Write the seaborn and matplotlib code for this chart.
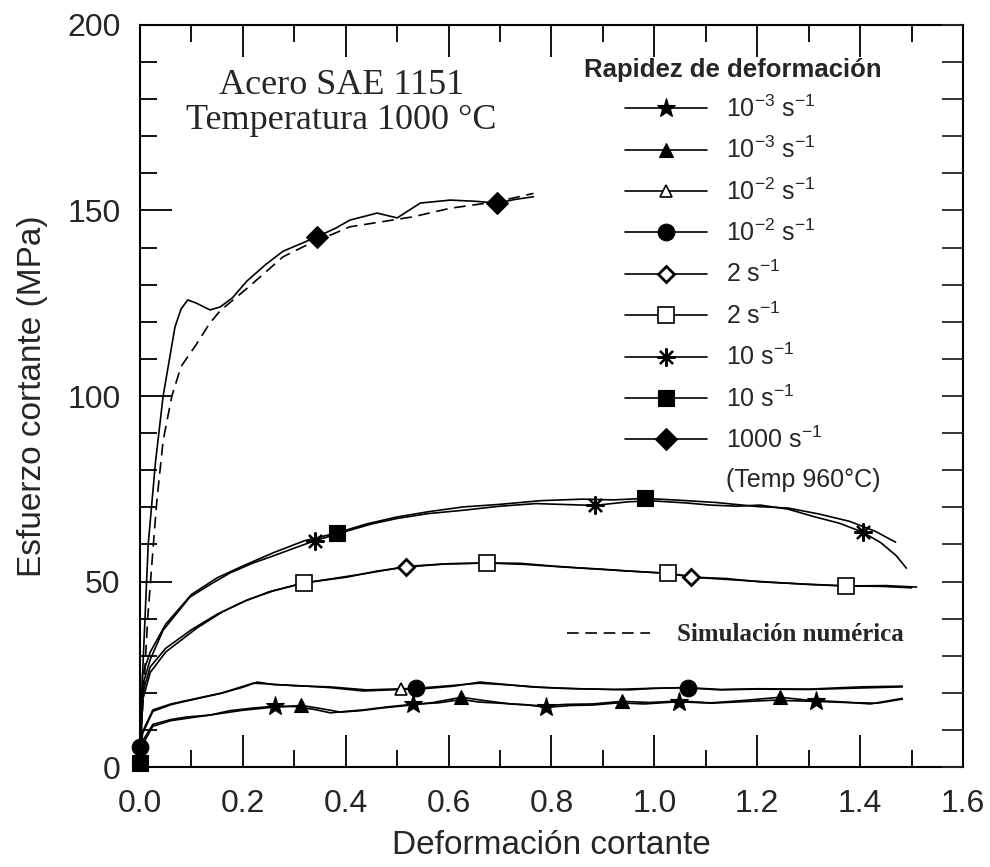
import matplotlib
matplotlib.use("Agg")
import matplotlib.pyplot as plt
from matplotlib.lines import Line2D
from matplotlib.ticker import MultipleLocator, FormatStrFormatter
import seaborn as sns
import pandas as pd

# ---------------- data ----------------
rate_labels = [r'10$^{-3}$ s$^{-1}$', r'10$^{-3}$ s$^{-1}$', r'10$^{-2}$ s$^{-1}$',
               r'10$^{-2}$ s$^{-1}$', r'2 s$^{-1}$', r'2 s$^{-1}$',
               r'10 s$^{-1}$', r'10 s$^{-1}$', r'1000 s$^{-1}$']
extra_label = '(Temp 960°C)'

# 10^-3 s^-1 (star)
s1_x = [0.0, 0.005, 0.025, 0.06, 0.091, 0.136, 0.175, 0.22, 0.263, 0.30, 0.34, 0.37, 0.40, 0.434,
        0.48, 0.53, 0.58, 0.625, 0.66, 0.70, 0.75, 0.79, 0.84, 0.88, 0.93, 0.98, 1.047, 1.11,
        1.17, 1.23, 1.314, 1.37, 1.434, 1.482]
s1_y = [1.5, 7.0, 11.5, 12.8, 13.5, 14.0, 15.2, 15.9, 16.4, 16.3, 15.5, 14.6, 15.0, 15.4,
        16.2, 16.9, 17.3, 18.2, 17.5, 17.2, 16.8, 16.1, 16.6, 16.7, 17.3, 17.0, 17.6, 17.2,
        17.6, 18.0, 17.7, 17.4, 17.2, 18.3]
s1_mx = [0.263, 0.53, 0.79, 1.047, 1.314]
s1_my = [16.4, 16.9, 16.1, 17.6, 17.7]

# 10^-3 s^-1 (filled triangle)
s2_x = [0.0, 0.005, 0.025, 0.06, 0.10, 0.15, 0.20, 0.25, 0.314, 0.35, 0.39, 0.43, 0.47, 0.52,
        0.57, 0.625, 0.67, 0.72, 0.78, 0.83, 0.88, 0.937, 0.99, 1.05, 1.11, 1.17, 1.244, 1.30,
        1.36, 1.42, 1.482]
s2_y = [1.0, 6.0, 11.0, 12.5, 13.3, 14.3, 15.3, 16.0, 16.6, 15.8, 14.8, 15.2, 15.9, 16.6,
        17.4, 18.8, 17.9, 17.0, 16.5, 16.9, 17.0, 17.7, 17.4, 17.8, 17.3, 17.9, 18.8, 18.0,
        17.6, 17.0, 18.5]
s2_mx = [0.314, 0.625, 0.937, 1.244]
s2_my = [16.6, 18.8, 17.7, 18.8]

# 10^-2 s^-1 (open triangle)
s3_x = [0.0, 0.005, 0.025, 0.06, 0.091, 0.156, 0.20, 0.228, 0.26, 0.30, 0.37, 0.434, 0.507,
        0.56, 0.61, 0.661, 0.70, 0.759, 0.82, 0.889, 0.95, 1.0, 1.054, 1.128, 1.2, 1.3, 1.4, 1.482]
s3_y = [2.0, 9.0, 15.0, 16.8, 17.8, 19.8, 21.5, 22.9, 22.2, 22.0, 21.4, 20.5, 20.9,
        21.2, 21.8, 22.9, 22.4, 21.6, 21.2, 21.0, 20.8, 21.2, 21.4, 20.8, 21.0, 20.9, 21.3, 21.6]
s3_mx = [0.507]
s3_my = [20.9]

# 10^-2 s^-1 (filled circle)
s4_x = [0.0, 0.005, 0.025, 0.06, 0.10, 0.16, 0.22, 0.25, 0.30, 0.37, 0.44, 0.536, 0.60, 0.66,
        0.72, 0.78, 0.85, 0.92, 0.99, 1.065, 1.13, 1.2, 1.3, 1.4, 1.482]
s4_y = [5.5, 9.5, 15.4, 17.0, 18.2, 20.0, 22.6, 22.4, 21.9, 21.6, 20.8, 21.2, 21.9, 22.6,
        22.1, 21.5, 21.1, 20.9, 21.2, 21.4, 20.9, 21.1, 21.0, 21.6, 21.8]
s4_mx = [0.0, 0.536, 1.065]
s4_my = [5.5, 21.2, 21.4]

# 2 s^-1 (open diamond)
s5_x = [0.0, 0.005, 0.02, 0.05, 0.111, 0.16, 0.208, 0.26, 0.318, 0.403, 0.46, 0.517, 0.59,
        0.674, 0.75, 0.823, 0.89, 0.953, 1.027, 1.072, 1.14, 1.206, 1.28, 1.373, 1.44, 1.50]
s5_y = [0.5, 18.0, 25.5, 31.0, 37.5, 41.8, 45.0, 47.5, 49.6, 51.2, 52.8, 53.9, 54.7,
        55.0, 54.6, 53.9, 53.4, 52.8, 52.2, 51.2, 50.8, 49.9, 49.4, 48.8, 48.7, 48.3]
s5_mx = [0.517, 1.072]
s5_my = [53.9, 51.2]

# 2 s^-1 (open square)
s6_x = [0.0, 0.005, 0.02, 0.05, 0.10, 0.15, 0.20, 0.25, 0.318, 0.38, 0.45, 0.52, 0.60, 0.674,
        0.74, 0.80, 0.87, 0.94, 1.027, 1.09, 1.16, 1.23, 1.30, 1.373, 1.45, 1.51]
s6_y = [0.5, 20.0, 27.0, 32.0, 37.0, 41.2, 44.5, 47.2, 49.6, 50.9, 52.4, 54.1, 54.8, 55.0,
        54.9, 54.2, 53.5, 52.9, 52.2, 51.0, 50.4, 49.8, 49.2, 48.8, 48.9, 48.5]
s6_mx = [0.318, 0.674, 1.027, 1.373]
s6_my = [49.6, 55.0, 52.2, 48.8]

# 10 s^-1 (asterisk)
s7_x = [0.0, 0.005, 0.02, 0.045, 0.097, 0.14, 0.175, 0.22, 0.253, 0.30, 0.34, 0.40, 0.45, 0.5,
        0.56, 0.628, 0.70, 0.77, 0.884, 0.95, 1.0, 1.06, 1.109, 1.16, 1.206, 1.26, 1.31, 1.36,
        1.405, 1.44, 1.47, 1.49]
s7_y = [0.5, 22.0, 29.0, 36.9, 45.8, 49.5, 52.3, 55.0, 56.6, 59.0, 61.0, 63.5, 65.5, 67.0,
        68.3, 69.2, 70.3, 71.0, 70.5, 71.5, 71.7, 71.2, 70.6, 70.3, 70.6, 69.5, 67.5, 65.7,
        63.3, 60.5, 57.0, 53.6]
s7_mx = [0.34, 0.884, 1.405]
s7_my = [61.0, 70.5, 63.3]

# 10 s^-1 (filled square)
s8_x = [0.0, 0.005, 0.02, 0.05, 0.10, 0.15, 0.20, 0.26, 0.32, 0.383, 0.44, 0.50, 0.56, 0.628,
        0.70, 0.78, 0.86, 0.92, 0.982, 1.05, 1.12, 1.20, 1.26, 1.32, 1.38, 1.43, 1.469]
s8_y = [1.0, 25.0, 31.0, 38.5, 46.5, 51.0, 54.2, 57.8, 61.0, 63.1, 65.5, 67.4, 68.8, 70.1,
        70.8, 71.8, 72.2, 72.0, 72.4, 71.9, 71.3, 70.2, 69.8, 68.2, 66.2, 63.5, 60.6]
s8_mx = [0.0, 0.383, 0.982]
s8_my = [1.0, 63.1, 72.4]

# 1000 s^-1 (filled diamond), Temp 960 C
s9_x = [0.0, 0.005, 0.016, 0.03, 0.045, 0.068, 0.08, 0.093, 0.11, 0.136, 0.156, 0.18, 0.208,
        0.245, 0.278, 0.344, 0.38, 0.408, 0.461, 0.50, 0.545, 0.603, 0.65, 0.695, 0.73, 0.765]
s9_y = [0.0, 25.0, 60.0, 82.0, 100.0, 118.6, 123.5, 125.9, 125.0, 123.2, 124.0, 126.5, 131.0,
        135.5, 139.0, 142.9, 145.2, 147.4, 149.3, 148.0, 152.0, 152.8, 152.5, 152.0, 153.0, 153.7]
s9_mx = [0.344, 0.695]
s9_my = [142.9, 152.0]

# numerical simulation (dashed)
sim_x = [0.005, 0.015, 0.026, 0.033, 0.045, 0.062, 0.08, 0.11, 0.135, 0.156, 0.208, 0.278,
         0.317, 0.408, 0.531, 0.603, 0.695, 0.765]
sim_y = [15.0, 40.0, 60.0, 72.0, 88.0, 100.0, 108.0, 114.0, 119.5, 123.0, 129.0, 137.5,
         140.2, 145.6, 148.3, 150.6, 152.4, 154.6]

# ---------------- style ----------------
sns.set_style('ticks')
plt.rcParams['font.family'] = ['Liberation Sans', 'DejaVu Sans']
plt.rcParams['mathtext.default'] = 'regular'
plt.rcParams['axes.linewidth'] = 1.5

series = [
    (s1_x, s1_y, s1_mx, s1_my, dict(marker='*', ms=14, mfc='black', mew=0.8)),
    (s2_x, s2_y, s2_mx, s2_my, dict(marker='^', ms=10, mfc='black', mew=0.8)),
    (s3_x, s3_y, s3_mx, s3_my, dict(marker='^', ms=9, mfc='white', mew=1.2)),
    (s4_x, s4_y, s4_mx, s4_my, dict(marker='o', ms=12, mfc='black', mew=0.8)),
    (s5_x, s5_y, s5_mx, s5_my, dict(marker='D', ms=8, mfc='white', mew=2.0)),
    (s6_x, s6_y, s6_mx, s6_my, dict(marker='s', ms=12, mfc='white', mew=1.2)),
    (s7_x, s7_y, s7_mx, s7_my, dict(marker=(8, 2, 0), ms=13, mfc='black', mew=1.6)),
    (s8_x, s8_y, s8_mx, s8_my, dict(marker='s', ms=12, mfc='black', mew=0.8)),
    (s9_x, s9_y, s9_mx, s9_my, dict(marker='D', ms=11, mfc='black', mew=0.8)),
]

fig = plt.figure(figsize=(9.9, 8.67), dpi=100)
ax = fig.add_axes([0.1414, 0.1153, 0.8313, 0.8559])

handles = []
for xs, ys, mx, my, mk in series:
    df = pd.DataFrame({'x': xs, 'y': ys})
    sns.lineplot(data=df, x='x', y='y', ax=ax, color='black', lw=1.2,
                 estimator=None, sort=False, legend=False)
    ax.plot(mx, my, linestyle='none', color='black', mec='black', zorder=5, clip_on=False, **mk)
    handles.append(Line2D([], [], color='black', lw=1.2, mec='black', **mk))

dfs = pd.DataFrame({'x': sim_x, 'y': sim_y})
sns.lineplot(data=dfs, x='x', y='y', ax=ax, color='black', lw=1.2,
             estimator=None, sort=False, legend=False, dashes=False)
ax.lines[-1].set_linestyle((0, (7, 4)))

ax.set_xlim(0, 1.6)
ax.set_ylim(0, 200)
ax.xaxis.set_major_locator(MultipleLocator(0.2))
ax.xaxis.set_minor_locator(MultipleLocator(0.1))
ax.yaxis.set_major_locator(MultipleLocator(50))
ax.yaxis.set_minor_locator(MultipleLocator(10))
ax.xaxis.set_major_formatter(FormatStrFormatter('%.1f'))
ax.tick_params(which='both', direction='in', top=True, right=False, width=1.3, color='black')
ax.tick_params(which='major', length=23)
ax.tick_params(which='minor', length=12)
ax.tick_params(axis='x', which='major', labelsize=23, pad=16)
ax.tick_params(axis='y', which='major', labelsize=23, pad=14)
for sp in ax.spines.values():
    sp.set_visible(True)
    sp.set_linewidth(1.5)
    sp.set_color('black')

ax.set_xlabel('Deformación cortante', fontsize=24, labelpad=8)
ax.set_ylabel('Esfuerzo cortante (MPa)', fontsize=24, labelpad=14)

# in-plot annotation
ax.text(0.245, 0.895, 'Acero SAE 1151\nTemperatura 1000 °C', transform=ax.transAxes,
        ha='center', va='center', fontsize=26, family=['Liberation Serif', 'DejaVu Serif'],
        linespacing=1.1)

# legend of strain rates
ax.text(0.7205, 0.939, 'Rapidez de deformación', transform=ax.transAxes, ha='center',
        va='center', fontsize=18.5, fontweight='bold')
handles.append(Line2D([], [], color='none'))
leg = ax.legend(handles, rate_labels + [extra_label], loc='upper left',
                bbox_to_anchor=(0.589, 0.905), frameon=False, fontsize=18,
                handlelength=3.3, handletextpad=0.75, labelspacing=0.6,
                borderpad=0, borderaxespad=0)
ax.add_artist(leg)

sim_handle = Line2D([], [], color='black', lw=1.2, linestyle=(0, (7, 4)))
leg2 = ax.legend([sim_handle], ['Simulación numérica'], loc='center left',
                 bbox_to_anchor=(0.519, 0.178), frameon=False,
                 prop={'family': ['Liberation Serif', 'DejaVu Serif'], 'weight': 'bold', 'size': 18},
                 handlelength=3.3, handletextpad=1.1, borderpad=0, borderaxespad=0)

# right-side ticks (uniform length)
ax2 = ax.twinx()
ax2.set_ylim(0, 200)
ax2.yaxis.set_major_locator(MultipleLocator(10))
ax2.tick_params(axis='y', direction='in', length=15, width=1.3, labelright=False, right=True)
for sp in ax2.spines.values():
    sp.set_visible(False)

fig.savefig('out.png', dpi=100, facecolor='white')
